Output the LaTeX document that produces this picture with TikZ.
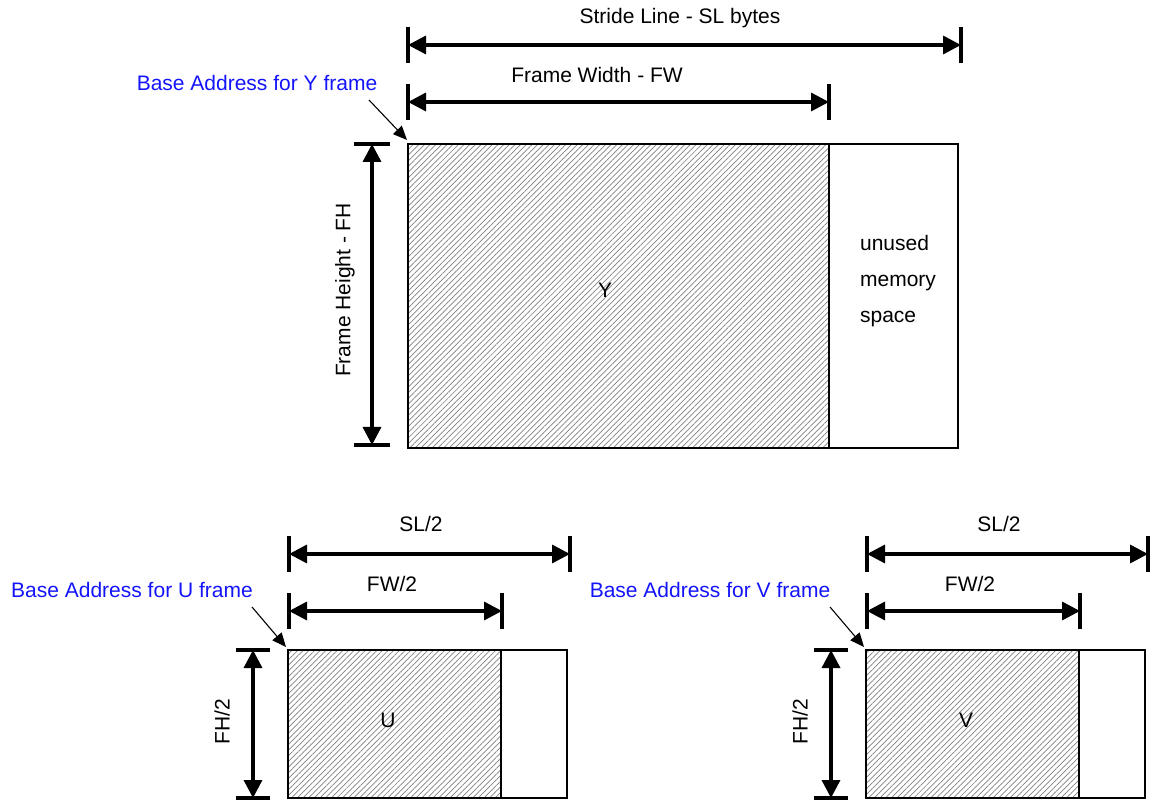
\documentclass[tikz,border=0pt]{standalone}
\usepackage{fontspec}
\setmainfont{Liberation Sans}
\usetikzlibrary{arrows.meta,patterns.meta}
\definecolor{addrblue}{RGB}{20,20,250}

\begin{document}
\begin{tikzpicture}[x=0.5pt,y=-0.5pt,
		every node/.style={font=\fontsize{10.5}{12}\selectfont},
		dim/.style={line width=1.7pt,{Triangle[length=9pt,width=9pt]}-{Triangle[length=9pt,width=9pt]}},
		tick/.style={line width=1.7pt},
		frame/.style={line width=1.4pt},
		hatch/.style={pattern={Lines[angle=45,distance=2pt,line width=0.35pt]},pattern color=gray},
		addr/.style={text=addrblue},
		ptr/.style={line width=0.55pt,-{Triangle[length=7pt,width=6pt]}}]
		\useasboundingbox (0,0) rectangle (1151,801);
		
		%Y frame
		\coordinate (tlY) at (408,144);
		\coordinate (brY) at (958,448);
		\coordinate (midY) at (829,448);
		\fill[hatch] (tlY) rectangle (midY);
		\draw[frame] (tlY) rectangle (brY) (midY) -- (midY |- tlY);
		\node (nameY) at (605,290) {Y};
		\node[align=left] (unused) at (898,281) {unused\\[6pt]memory\\[6pt]space};
		
		\coordinate (slA) at (408,45);
		\coordinate (slB) at (961,45);
		\draw[tick] (slA) ++(0,-18) -- ++(0,36) (slB) ++(0,-18) -- ++(0,36);
		\draw[dim] (slA) -- (slB);
		\node (slT) at (680,18) {Stride Line - SL bytes};
		
		\coordinate (fwA) at (408,102);
		\coordinate (fwB) at (829,102);
		\draw[tick] (fwA) ++(0,-18) -- ++(0,36) (fwB) ++(0,-18) -- ++(0,36);
		\draw[dim] (fwA) -- (fwB);
		\node (fwT) at (597,75) {Frame Width - FW};
		
		\coordinate (fhA) at (372,144);
		\coordinate (fhB) at (372,445);
		\draw[tick] (fhA) ++(-18,0) -- ++(36,0) (fhB) ++(-18,0) -- ++(36,0);
		\draw[dim] (fhA) -- (fhB);
		\node[rotate=90] (fhT) at (345,290) {Frame Height - FH};
		
		%Annotations
		\node[addr] (baseY) at (257,83) {Base Address for Y frame};
		\coordinate (ptrY) at (369,100);
		\draw[ptr] (ptrY) -- (407,140);
		
		%U and V frames
		\foreach \f/\dx in {U/0,V/578}{
			\begin{scope}[shift={(\dx,0)}]
				\coordinate (tl\f) at (288,650);
				\coordinate (br\f) at (567,798);
				\coordinate (mid\f) at (501,798);
				\fill[hatch] (tl\f) rectangle (mid\f);
				\draw[frame] (tl\f) rectangle (br\f) (mid\f) -- (mid\f |- tl\f);
				\node (name\f) at (388,720) {\f};
				
				\coordinate (slA\f) at (289,554);
				\coordinate (slB\f) at (570,554);
				\draw[tick] (slA\f) ++(0,-18) -- ++(0,36) (slB\f) ++(0,-18) -- ++(0,36);
				\draw[dim] (slA\f) -- (slB\f);
				\node (slT\f) at (421,524) {SL/2};
				
				\coordinate (fwA\f) at (289,611);
				\coordinate (fwB\f) at (502,611);
				\draw[tick] (fwA\f) ++(0,-18) -- ++(0,36) (fwB\f) ++(0,-18) -- ++(0,36);
				\draw[dim] (fwA\f) -- (fwB\f);
				\node (fwT\f) at (392,584) {FW/2};
				
				\coordinate (fhA\f) at (253,650);
				\coordinate (fhB\f) at (253,798);
				\draw[tick] (fhA\f) ++(-17,0) -- ++(34,0) (fhB\f) ++(-17,0) -- ++(34,0);
				\draw[dim] (fhA\f) -- (fhB\f);
				\node[rotate=90] (fhT\f) at (222,722) {FH/2};
				
				\node[addr] (base\f) at (132,590) {Base Address for \f\ frame};
				\coordinate (ptr\f) at (252,607);
				\draw[ptr] (ptr\f) -- (286,647);
			\end{scope}
		}
	\end{tikzpicture}
\end{document}
